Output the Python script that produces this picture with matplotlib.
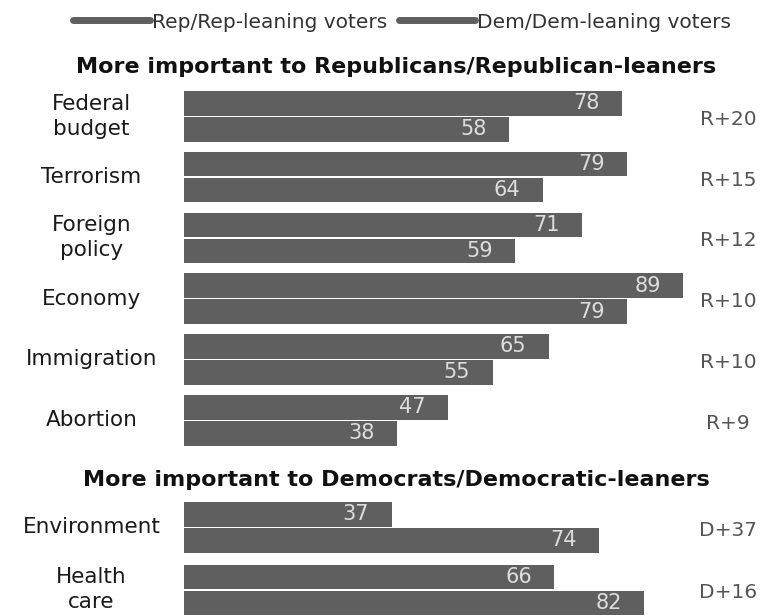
import matplotlib.pyplot as plt
from matplotlib.lines import Line2D

# données
rep_issues = ["Federal\nbudget", "Terrorism", "Foreign\npolicy", "Economy", "Immigration", "Abortion"]
rep_rep = [78, 79, 71, 89, 65, 47]
rep_dem = [58, 64, 59, 79, 55, 38]
rep_gap = ["R+20", "R+15", "R+12", "R+10", "R+10", "R+9"]

dem_issues = ["Environment", "Health\ncare"]
dem_rep = [37, 66]
dem_dem = [74, 82]
dem_gap = ["D+37", "D+16"]

couleur = "#5f5f5f"
W, H = 781, 616
px = 5.61  # pixels par point de pourcentage

fig = plt.figure(figsize=(W / 100, H / 100), dpi=100)
ax = fig.add_axes([184 / W, 0, (W - 184) / W, 1])
ax.set_xlim(0, (W - 184) / px)
ax.set_ylim(H, 0)
ax.axis("off")

bar_h = 24.5


def groupe(issues, v_rep, v_dem, ecarts, top0, pas):
    for i, nom in enumerate(issues):
        top = top0 + pas * i
        y1 = top + bar_h / 2
        y2 = top + bar_h + 1.5 + bar_h / 2
        ax.barh(y1, v_rep[i], height=bar_h, color=couleur, edgecolor="none")
        ax.barh(y2, v_dem[i], height=bar_h, color=couleur, edgecolor="none")
        ax.text(v_rep[i] - 4, y1, str(v_rep[i]), ha="right", va="center",
                fontsize=15, color="#dddddd")
        ax.text(v_dem[i] - 4, y2, str(v_dem[i]), ha="right", va="center",
                fontsize=15, color="#dddddd")
        ymid = top + bar_h + 0.75
        ax.text(-16.5, ymid, nom, ha="center", va="center", fontsize=15.5,
                color="#1a1a1a", linespacing=1.3, clip_on=False)
        ax.text(97, ymid + 3, ecarts[i], ha="center", va="center",
                fontsize=14.5, color="#555555")


groupe(rep_issues, rep_rep, rep_dem, rep_gap, 91, 60.8)
groupe(dem_issues, dem_rep, dem_dem, dem_gap, 502, 62.5)

fig.text(0.507, 1 - 67 / H, "More important to Republicans/Republican-leaners",
         ha="center", va="center", fontsize=16, fontweight="bold", color="#111111")
fig.text(0.507, 1 - 480 / H, "More important to Democrats/Democratic-leaners",
         ha="center", va="center", fontsize=16, fontweight="bold", color="#111111")

handles = [Line2D([], [], color=couleur, lw=5, solid_capstyle="round"),
           Line2D([], [], color=couleur, lw=5, solid_capstyle="round")]
fig.legend(handles, ["Rep/Rep-leaning voters", "Dem/Dem-leaning voters"],
           loc="center", bbox_to_anchor=(0.515, 1 - 22 / H), ncol=2, frameon=False,
           fontsize=14.5, handlelength=3.8, handletextpad=0.1, columnspacing=0.6,
           labelcolor="#333333")

fig.savefig("out.png", dpi=100)
